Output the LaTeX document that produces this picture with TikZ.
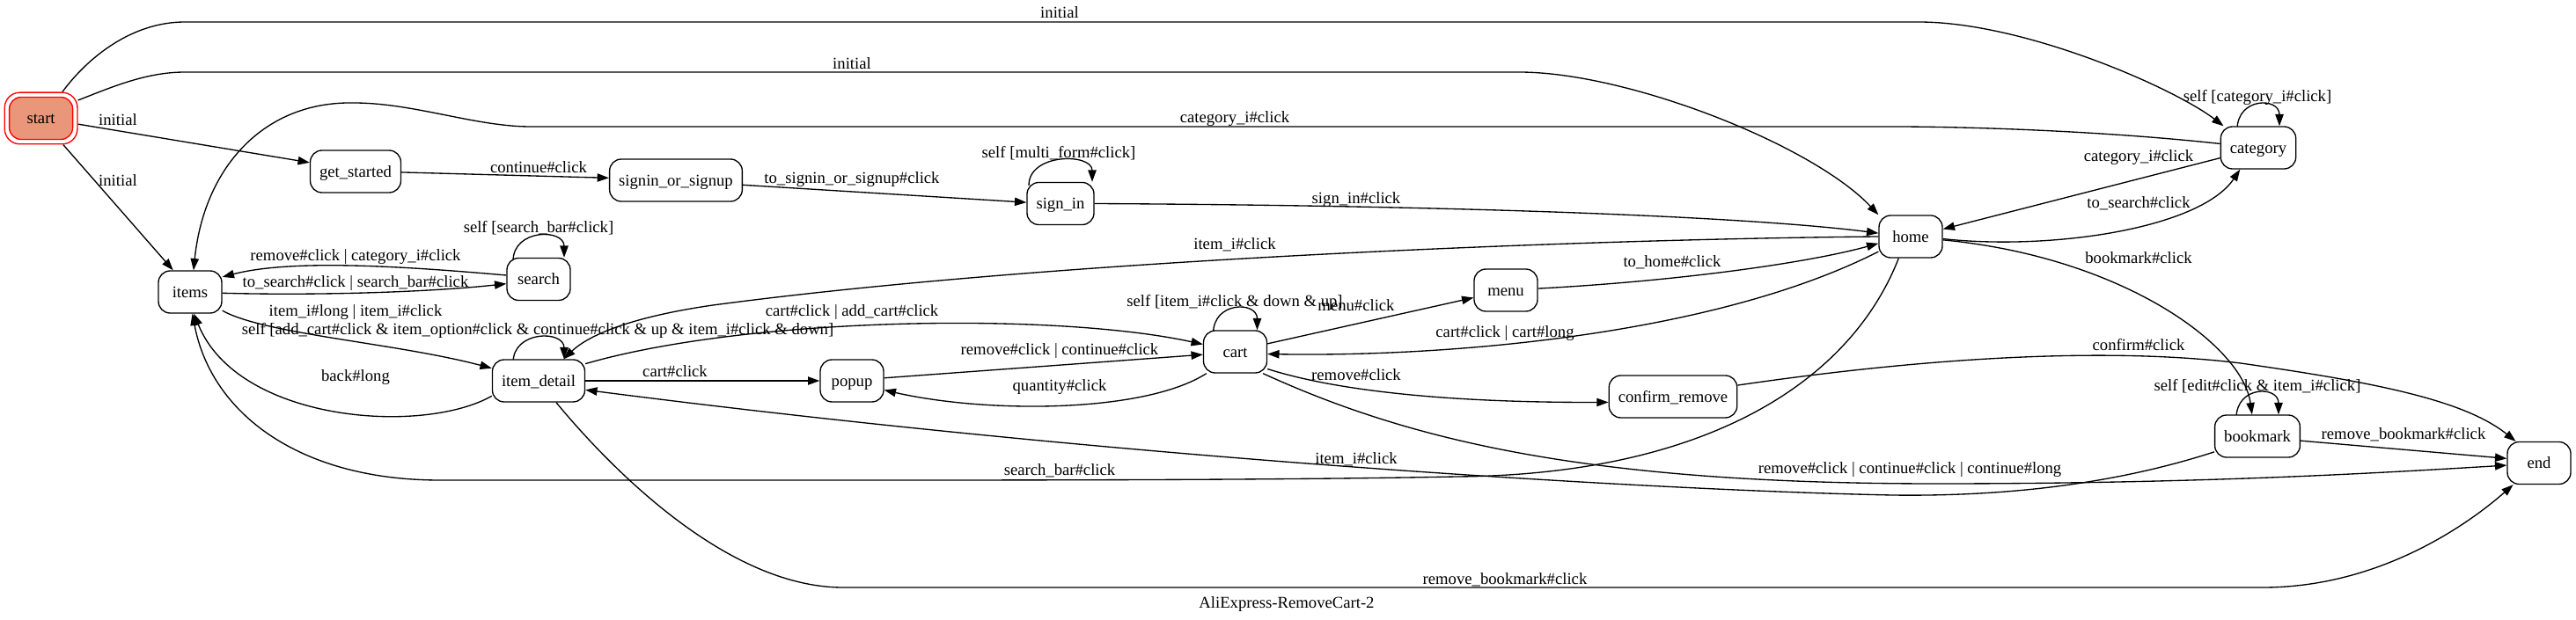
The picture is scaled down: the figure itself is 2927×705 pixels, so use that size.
\documentclass[tikz,border=0pt]{standalone}
\usepackage{fontspec}
\setmainfont{Liberation Serif}
\usetikzlibrary{arrows.meta,calc,fit}
\pgfdeclarelayer{background}
\pgfsetlayers{background,main}
\definecolor{salmonfill}{HTML}{E9967A}
\begin{document}
\begin{tikzpicture}[x=0.75pt,y=-0.75pt,
  state/.style={draw, line width=1pt, rounded corners=10pt, minimum width=54pt, minimum height=36pt,
    inner xsep=7.9pt, inner ysep=0pt, text height=9.6pt, text depth=0pt, fill=white,
    font=\fontsize{14pt}{17pt}\selectfont},
  lbl/.style={inner sep=0pt, text height=9.6pt, text depth=0pt, font=\fontsize{14pt}{17pt}\selectfont},
  edge/.style={draw, line width=1pt, -{Triangle[length=10pt,width=7pt]}},
]
\useasboundingbox (0,0) rectangle (2927,705);
% states
\node[state, fill=salmonfill, draw=red] (nstart) at (46.6,134.5) {start};
\node[draw=red, line width=1pt, rounded corners=13pt, fit=(nstart), inner sep=3.5pt] (startouter) {};
\node[state] (getstarted) at (404,195) {get\_started};
\node[state] (signinorsignup) at (768,205) {signin\_or\_signup};
\node[state] (signin) at (1205,231.5) {sign\_in};
\node[state] (home) at (2171,269) {home};
\node[state] (category) at (2566,168) {category};
\node[state] (items) at (216,332) {items};
\node[state] (search) at (612,317.5) {search};
\node[state] (itemdetail) at (612,433) {item\_detail};
\node[state] (popup) at (968,433) {popup};
\node[state] (cart) at (1403.5,400) {cart};
\node[state] (menu) at (1711,330) {menu};
\node[state] (confirmremove) at (1901,451) {confirm\_remove};
\node[state] (bookmark) at (2565,496) {bookmark};
\node[state] (nend) at (2885,526.5) {end};

% edge labels
\node[lbl] (l01) at (1204,14) {initial};
\node[lbl] (l02) at (968,72) {initial};
\node[lbl] (l03) at (134,136) {initial};
\node[lbl] (l04) at (134,205) {initial};
\node[lbl] (l05) at (612,190) {continue\#click};
\node[lbl] (l06) at (968,202) {to\_signin\_or\_signup\#click};
\node[lbl] (l07) at (1203,173) {self [multi\_form\#click]};
\node[lbl] (l08) at (1541,225) {sign\_in\#click};
\node[lbl] (l09) at (1403,133) {category\_i\#click};
\node[lbl] (l10) at (2565,109) {self [category\_i\#click]};
\node[lbl] (l11) at (2430,177) {category\_i\#click};
\node[lbl] (l12) at (2430,230) {to\_search\#click};
\node[lbl] (l13) at (2430,293) {bookmark\#click};
\node[lbl] (l14) at (1403,277) {item\_i\#click};
\node[lbl] (l15) at (612,258) {self [search\_bar\#click]};
\node[lbl] (l16) at (404,290) {remove\#click | category\_i\#click};
\node[lbl] (l17) at (404,320) {to\_search\#click | search\_bar\#click};
\node[lbl] (l18) at (404,353) {item\_i\#long | item\_i\#click};
\node[lbl] (l19) at (611,374) {self [add\_cart\#click \& item\_option\#click \& continue\#click \& up \& item\_i\#click \& down]};
\node[lbl] (l20) at (404,427) {back\#long};
\node[lbl] (l21) at (968,353) {cart\#click | add\_cart\#click};
\node[lbl] (l22) at (767,422) {cart\#click};
\node[lbl] (l23) at (1204,397) {remove\#click | continue\#click};
\node[lbl] (l24) at (1204,438) {quantity\#click};
\node[lbl] (l25) at (1403,342) {self [item\_i\#click \& down \& up]};
\node[lbl] (l26) at (1541,347) {menu\#click};
\node[lbl] (l27) at (1900,297) {to\_home\#click};
\node[lbl] (l28) at (1710,377) {cart\#click | cart\#long};
\node[lbl] (l29) at (1541,426) {remove\#click};
\node[lbl] (l30) at (2430,392) {confirm\#click};
\node[lbl] (l31) at (2170,532) {remove\#click | continue\#click | continue\#long};
\node[lbl] (l32) at (2565,438) {self [edit\#click \& item\_i\#click]};
\node[lbl] (l33) at (2731,493) {remove\_bookmark\#click};
\node[lbl] (l34) at (1541,521) {item\_i\#click};
\node[lbl] (l35) at (1204,534) {search\_bar\#click};
\node[lbl] (l36) at (1710,658) {remove\_bookmark\#click};
\node[lbl] (title) at (1462,685) {AliExpress-RemoveCart-2};

\begin{pgfonlayer}{background}
\fill[white] (0,0) rectangle (2927,705);
% from start
\draw[edge] (startouter.51) .. controls (100,65) and (150,25) .. (210,25) -- (2180,25)
  .. controls (2300,25) and (2470,100) .. (category.148);
\draw[edge] (startouter.26) .. controls (125,100) and (165,82) .. (210,82) -- (1726,82)
  .. controls (1850,82) and (2060,165) .. (home.146);
\draw[edge] (startouter.-9) -- (getstarted.169);
\draw[edge] (startouter.-50) -- (items.128);
% onboarding
\draw[edge] (getstarted.-1) -- (signinorsignup.178);
\draw[edge] (signinorsignup.-4) -- (signin.178);
\draw[edge] ($(signin.north)+(-36,4)$) .. controls +(0,-37) and +(0,-33) .. ($(signin.north)+(36,0)$);
\draw[edge] (signin.0) .. controls (1700,234) and (2000,248) .. (home.174);
% category
\draw[edge] (category.174) .. controls (2400,150) and (2250,144) .. (2150,144) -- (603,144)
  .. controls (540,144) and (470,117) .. (402,117) .. controls (300,115) and (232,190) .. (items.81);
\draw[edge] ($(category.north)+(-24,4)$) .. controls +(0,-37) and +(0,-33) .. ($(category.north)+(24,0)$);
\draw[edge] (category.195) -- (home.13);
\draw[edge] (home.-4) .. controls (2330,285) and (2500,260) .. (category.230);
\draw[edge] (home.-6) .. controls (2410,292) and (2548,392) .. (bookmark.104);
% home to item detail
\draw[edge] (home.180) .. controls (1800,272) and (1200,295) .. (810,347)
  .. controls (720,360) and (670,380) .. (itemdetail.41);
% items / search
\draw[edge] (items.-2) .. controls (350,336) and (480,333) .. (search.188);
\draw[edge] (search.173) .. controls (450,302) and (330,295) .. (items.25);
\draw[edge] ($(search.north)+(-29,4)$) .. controls +(0,-37) and +(0,-33) .. ($(search.north)+(29,0)$);
\draw[edge] (items.-30) .. controls (300,380) and (450,390) .. (itemdetail.165);
\draw[edge] (itemdetail.198) .. controls (480,495) and (270,480) .. (items.-80);
\draw[edge] ($(itemdetail.north)+(-29,4)$) .. controls +(0,-37) and +(0,-33) .. ($(itemdetail.north)+(29,0)$);
% cart area
\draw[edge] (itemdetail.20) .. controls (850,360) and (1200,355) .. (cart.167);
\draw[edge] (itemdetail.east) -- (popup.west);
\draw[edge] (popup.5) -- (cart.185);
\draw[edge] (cart.217) .. controls (1300,470) and (1120,470) .. (popup.-16);
\draw[edge] ($(cart.north)+(-25,4)$) .. controls +(0,-37) and +(0,-33) .. ($(cart.north)+(25,0)$);
\draw[edge] (cart.14) -- (menu.193);
\draw[edge] (menu.3) .. controls (1900,320) and (2050,300) .. (home.192);
\draw[edge] (home.205) .. controls (1950,380) and (1650,406) .. (cart.-4);
\draw[edge] (cart.-28) .. controls (1520,445) and (1650,458) .. (confirmremove.185);
\draw[edge] (confirmremove.10) .. controls (2200,405) and (2400,395) .. (2546,413)
  .. controls (2700,435) and (2800,455) .. (nend.137);
\draw[edge] (cart.-38) .. controls (1600,500) and (1800,550) .. (2200,550)
  .. controls (2500,550) and (2700,538) .. (nend.184);
% bookmark
\draw[edge] ($(bookmark.north)+(-24,4)$) .. controls +(0,-37) and +(0,-33) .. ($(bookmark.north)+(24,0)$);
\draw[edge] (bookmark.-6) -- (nend.172);
\draw[edge] (bookmark.200) .. controls (2420,545) and (2300,565) .. (2150,563)
  .. controls (1900,558) and (1300,525) .. (itemdetail.-11);
% long returns
\draw[edge] (home.241) .. controls (2100,440) and (1930,540) .. (1655,542)
  .. controls (1500,545) and (1300,546) .. (1000,546) -- (500,546)
  .. controls (340,546) and (240,470) .. (items.-84);
\draw[edge] (itemdetail.-51) .. controls (700,540) and (830,668) .. (958,668) -- (2571,668)
  .. controls (2700,668) and (2800,600) .. (nend.220);
\end{pgfonlayer}
\end{tikzpicture}
\end{document}
